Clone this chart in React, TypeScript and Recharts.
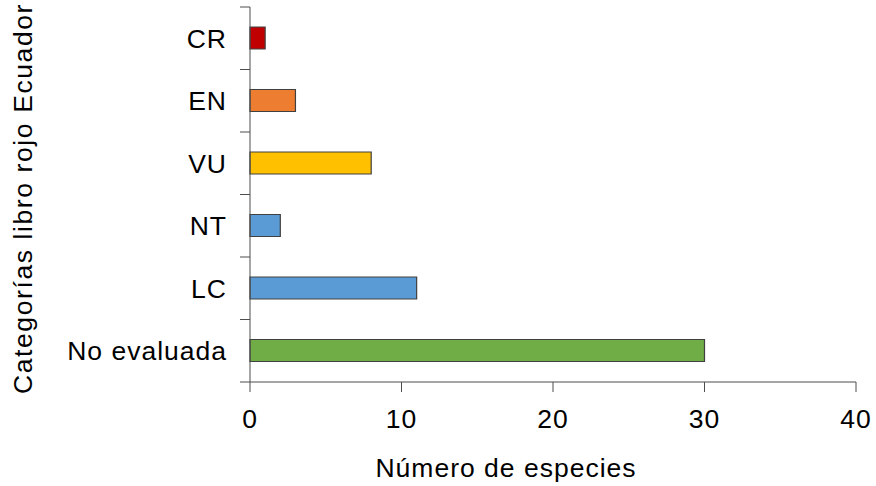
import { BarChart, Bar, Cell, XAxis, YAxis, Label } from 'recharts';

const categories = ['CR', 'EN', 'VU', 'NT', 'LC', 'No evaluada'];
const species = [1, 3, 8, 2, 11, 30];
const barColors = ['#C00000', '#ED7D31', '#FFC000', '#5B9BD5', '#5B9BD5', '#70AD47'];
const xTicks = [0, 10, 20, 30, 40];

const W = 876;
const H = 486;
const MARGIN = { top: 7, right: 20, bottom: 0, left: 0 };
const Y_AXIS_W = 250;
const X_AXIS_H = 104;
const TICK_SIZE = 10;
const Y_TICK_MARGIN = 14;
const FONT = '"Liberation Sans", Arial, sans-serif';
const FONT_SIZE = 26.5;
const SPACING = 1;
const AXIS_COLOR = '#4d4d4d';
const TEXT_COLOR = '#000';

const bandHalf = (H - MARGIN.top - MARGIN.bottom - X_AXIS_H) / categories.length / 2;

const data = categories.map((c, i) => ({ cat: c, n: species[i] }));

// category labels + boundary ticks (the ticks sit between bands, not at their centres)
function CategoryTick(props: any) {
  const { x, y, payload, index } = props;
  const axisX = x + TICK_SIZE + Y_TICK_MARGIN;
  const last = index === categories.length - 1;
  return (
    <g>
      <line x1={axisX - TICK_SIZE} x2={axisX} y1={y - bandHalf} y2={y - bandHalf} stroke={AXIS_COLOR} />
      {last && (
        <line x1={axisX - TICK_SIZE} x2={axisX} y1={y + bandHalf} y2={y + bandHalf} stroke={AXIS_COLOR} />
      )}
      <text
        x={x + SPACING}
        y={y}
        dy="0.355em"
        textAnchor="end"
        fill={TEXT_COLOR}
        fontFamily={FONT}
        fontSize={FONT_SIZE}
        letterSpacing={SPACING}
      >
        {payload.value}
      </text>
    </g>
  );
}

function XTitle(props: any) {
  const { x, y, width, height } = props.viewBox;
  return (
    <text
      x={x + width / 2 - 47}
      y={y + height - 9}
      textAnchor="middle"
      fill={TEXT_COLOR}
      fontFamily={FONT}
      fontSize={FONT_SIZE}
      letterSpacing={SPACING}
    >
      Número de especies
    </text>
  );
}

function YTitle(props: any) {
  const { y, height } = props.viewBox;
  const cx = 32;
  const cy = y + height / 2 + 4;
  return (
    <text
      x={cx}
      y={cy}
      transform={`rotate(-90, ${cx}, ${cy})`}
      textAnchor="middle"
      fill={TEXT_COLOR}
      fontFamily={FONT}
      fontSize={FONT_SIZE}
      letterSpacing={1.6}
    >
      Categorías libro rojo Ecuador
    </text>
  );
}

export default function App() {
  return (
    <div style={{ position: 'absolute', left: 0, top: 0, background: '#fff' }}>
      <BarChart width={W} height={H} data={data} layout="vertical" margin={MARGIN}>
        <XAxis
          type="number"
          domain={[0, 40]}
          ticks={xTicks}
          height={X_AXIS_H}
          stroke={AXIS_COLOR}
          tickSize={TICK_SIZE}
          tickMargin={17}
          tick={{ fill: TEXT_COLOR, fontSize: FONT_SIZE, fontFamily: FONT, letterSpacing: SPACING }}
        >
          <Label content={XTitle} />
        </XAxis>
        <YAxis
          type="category"
          dataKey="cat"
          width={Y_AXIS_W}
          stroke={AXIS_COLOR}
          tickLine={false}
          tickSize={TICK_SIZE}
          tickMargin={Y_TICK_MARGIN}
          tick={CategoryTick}
          interval={0}
        >
          <Label content={YTitle} />
        </YAxis>
        <Bar dataKey="n" barSize={22} stroke="#404040" strokeWidth={1.2} isAnimationActive={false}>
          {data.map((d, i) => (
            <Cell key={d.cat} fill={barColors[i]} />
          ))}
        </Bar>
      </BarChart>
    </div>
  );
}
